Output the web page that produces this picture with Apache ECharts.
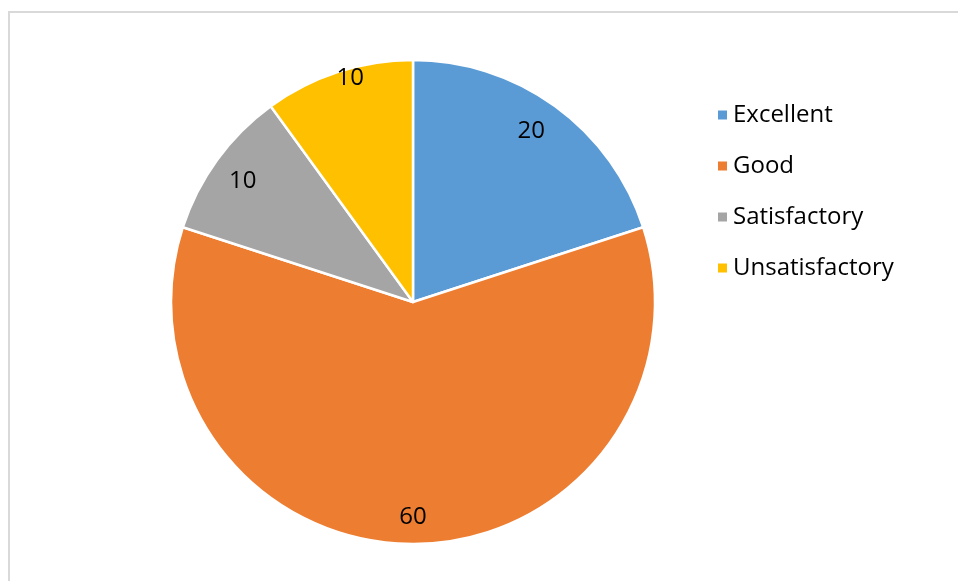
<!DOCTYPE html>
<html><head><meta charset="utf-8">
<script src="https://cdn.jsdelivr.net/npm/echarts@6/dist/echarts.min.js"></script>
<style>html,body{margin:0;padding:0;background:#fff}#c{width:958px;height:581px}</style>
</head><body><div id="c"></div>
<script>
const categories = ['Excellent', 'Good', 'Satisfactory', 'Unsatisfactory'];
const values = [20, 60, 10, 10];
const colors = ['#5B9BD5', '#ED7D31', '#A5A5A5', '#FFC000'];
const labelOffsets = [[-7, 1], [0, 2], [2, 4], [3, -21]];

const chart = echarts.init(document.getElementById('c'), null, {renderer: 'canvas'});
const data = categories.map((n, i) => ({name: n, value: values[i], itemStyle: {color: colors[i]}}));
const font = '"Open Sans", Lato, sans-serif';
chart.setOption({
  animation: false,
  graphic: [{
    type: 'rect', silent: true, z: -10,
    shape: {x: 9, y: 12, width: 1200, height: 1200},
    style: {fill: '#fff', stroke: '#d9d9d9', lineWidth: 2}
  }],
  legend: {
    orient: 'vertical', left: 711, top: 98,
    itemWidth: 11, itemHeight: 11, itemGap: 27, icon: 'rect',
    data: categories,
    textStyle: {fontSize: 24, color: '#000', fontFamily: font, padding: [0, 0, 0, 0]}
  },
  series: [{
    type: 'pie', center: [413, 302], radius: [0, 242], startAngle: 90, clockwise: true,
    data: data,
    itemStyle: {borderColor: '#fff', borderWidth: 2.5},
    label: {show: false}, labelLine: {show: false}, emphasis: {disabled: true}
  }, {
    type: 'pie', center: [413, 302], radius: [178, 242], startAngle: 90, clockwise: true,
    data: categories.map((n, i) => ({name: n, value: values[i], label: {offset: labelOffsets[i]}})),
    itemStyle: {color: 'rgba(0,0,0,0)'}, silent: true, legendHoverLink: false,
    label: {show: true, position: 'inside', formatter: '{c}', fontSize: 24, color: '#000', fontFamily: font},
    labelLine: {show: false}, emphasis: {disabled: true}
  }]
});
</script></body></html>
